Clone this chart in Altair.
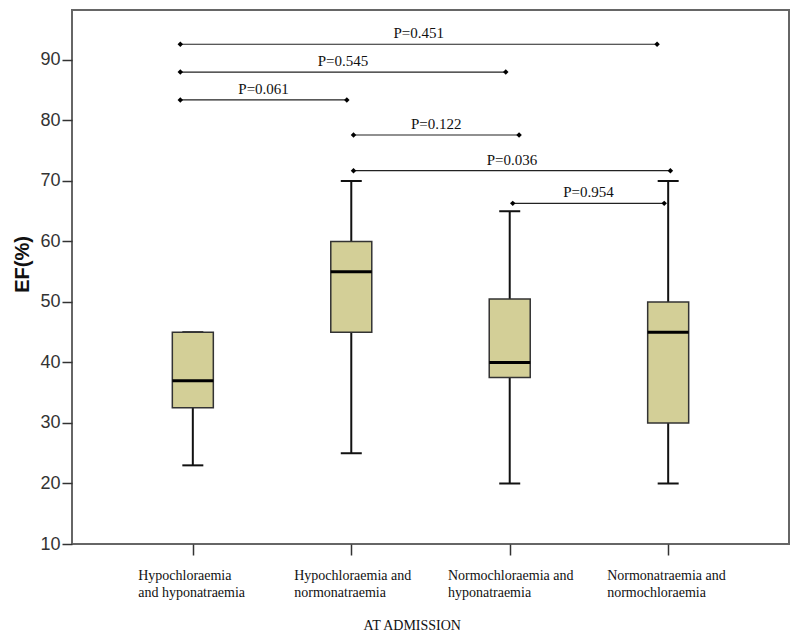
import altair as alt
import pandas as pd

# ---- data ----
categories = [
    "Hypochloraemia\nand hyponatraemia",
    "Hypochloraemia and\nnormonatraemia",
    "Normochloraemia and\nhyponatraemia",
    "Normonatraemia and\nnormochloraemia",
]
positions = [1, 2, 3, 4]
whisker_low = [23, 25, 20, 20]
q1 = [32.5, 45, 37.5, 30]
median = [37, 55, 40, 45]
q3 = [45, 60, 50.5, 50]
whisker_high = [45, 70, 65, 70]
label_x = [0.655, 1.640, 2.610, 3.615]

p_labels = ["P=0.451", "P=0.545", "P=0.061", "P=0.122", "P=0.036", "P=0.954"]
p_start = [0.921, 0.921, 0.921, 2.014, 2.014, 3.019]
p_end = [3.930, 2.975, 1.972, 3.059, 4.014, 3.975]
p_level = [92.6, 88.0, 83.4, 77.6, 71.7, 66.3]

y_ticks = [10, 20, 30, 40, 50, 60, 70, 80, 90]

boxes = pd.DataFrame({
    "cat": categories, "pos": positions, "lo": whisker_low, "q1": q1,
    "med": median, "q3": q3, "hi": whisker_high, "lx": label_x,
})
brackets = pd.DataFrame({
    "label": p_labels, "start": p_start, "end": p_end, "level": p_level,
})
brackets["mid"] = (brackets["start"] + brackets["end"]) / 2
ends = pd.concat([
    brackets[["start", "level"]].rename(columns={"start": "x"}),
    brackets[["end", "level"]].rename(columns={"end": "x"}),
])

xs = alt.Scale(domain=[0.269, 4.731], nice=False, zero=False)
ys = alt.Scale(domain=[10, 98.26], nice=False, zero=False)

x_axis = alt.Axis(values=positions, labels=False, title=None,
                  tickSize=11, tickWidth=1.5, tickColor="#333",
                  domain=False, grid=False)
y_axis = alt.Axis(values=y_ticks, title="EF(%)", tickSize=10,
                  tickWidth=1.5, tickColor="#333", domain=False,
                  grid=False, labelFontSize=18, labelColor="#333",
                  labelFont="Liberation Sans", labelPadding=2,
                  titleFont="Liberation Sans", titleFontSize=20,
                  titleFontWeight="bold", titleColor="#111",
                  titleX=-44, titleY=254, titleBaseline="alphabetic",
                  titleAngle=270)

def X(field):
    return alt.X(field, type="quantitative", scale=xs, axis=x_axis)

def Y(field):
    return alt.Y(field, type="quantitative", scale=ys, axis=y_axis)

base = alt.Chart(boxes)

whiskers = base.mark_rule(color="#111", strokeWidth=2, opacity=1).encode(
    x=X("pos"), y=Y("lo"), y2="hi")
caps_lo = base.mark_tick(orient="horizontal", size=21, thickness=2,
                         color="#111", opacity=1).encode(x=X("pos"), y=Y("lo"))
caps_hi = base.mark_tick(orient="horizontal", size=21, thickness=2,
                         color="#111", opacity=1).encode(x=X("pos"), y=Y("hi"))
box = base.mark_bar(size=41, color="#D3CF97", stroke="#333", strokeWidth=1.5,
                    opacity=1).encode(x=X("pos"), y=Y("q1"), y2="q3")
med = base.mark_tick(orient="horizontal", size=41, thickness=3, color="#000",
                     opacity=1).encode(x=X("pos"), y=Y("med"))

cat_text = base.mark_text(align="left", baseline="alphabetic", lineBreak="\n",
                          font="Liberation Serif", fontSize=14, lineHeight=16.5,
                          color="#111").encode(
    x=X("lx"), y=alt.value(570), text="cat:N")

xtitle = alt.Chart(pd.DataFrame({"t": ["AT ADMISSION"], "x": [2.385]})).mark_text(
    align="center", baseline="alphabetic", font="Liberation Serif", fontSize=14,
    color="#111").encode(x=X("x"), y=alt.value(620), text="t:N")

blines = alt.Chart(brackets).mark_rule(color="#222", strokeWidth=1.2).encode(
    x=X("start"), x2="end", y=Y("level"))
bpoints = alt.Chart(ends).mark_point(shape="diamond", size=30, filled=True,
                                     color="#000", opacity=1).encode(
    x=X("x"), y=Y("level"))
btext = alt.Chart(brackets).mark_text(baseline="middle", dy=-11,
                                      font="Liberation Serif", fontSize=15,
                                      color="#111").encode(
    x=X("mid"), y=Y("level"), text="label:N")

chart = alt.layer(
    whiskers, caps_lo, caps_hi, box, med, blines, bpoints, btext, cat_text, xtitle
).properties(
    width=717, height=534,
    background="white",
    autosize=alt.AutoSizeParams(type="none"),
    padding={"left": 64, "top": 2, "right": 3, "bottom": 92},
).configure_view(stroke="#666", strokeWidth=2)

chart.save("out.html", embed_options={"renderer": "svg", "actions": False})
